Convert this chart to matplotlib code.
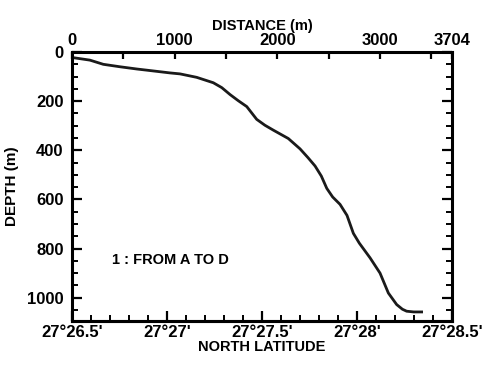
import matplotlib.pyplot as plt
from matplotlib.ticker import MultipleLocator, FixedLocator

plt.rcParams['font.family'] = ['Liberation Sans', 'DejaVu Sans']
plt.rcParams['font.weight'] = 'bold'

# depth profile, distance (m) vs depth (m)
distance = [0, 13, 175, 305, 468, 630, 793, 955, 1053, 1215, 1377, 1460, 1540,
            1620, 1703, 1800, 1880, 1962, 2108, 2222, 2300, 2369, 2430, 2483,
            2540, 2612, 2680, 2742, 2800, 2905, 3002, 3083, 3164, 3220, 3261,
            3330, 3407]
depth = [20, 23, 33, 50, 60, 69, 77, 85, 89, 103, 125, 145, 173,
         198, 222, 274, 298, 318, 352, 394, 430, 464, 505, 555,
         590, 620, 665, 738, 778, 838, 900, 981, 1028, 1047, 1055,
         1058, 1058]

dist_ticks = [0, 1000, 2000, 3000, 3704]
lat_ticks = [26.5, 27.0, 27.5, 28.0, 28.5]
lat_labels = ["27°26.5'", "27°27'", "27°27.5'", "27°28'", "27°28.5'"]
depth_ticks = [0, 200, 400, 600, 800, 1000]

fig = plt.figure(figsize=(4.93, 3.69), dpi=100)
ax = fig.add_axes([0.146, 0.130, 0.771, 0.729])

ax.plot(distance, depth, color='#1a1a1a', lw=2.0)

ax.set_xlim(0, 3704)
ax.set_ylim(1095, 0)

# top axis: distance
ax.xaxis.set_ticks_position('top')
ax.xaxis.set_label_position('top')
ax.set_xticks(dist_ticks)
ax.xaxis.set_minor_locator(FixedLocator([500, 1500, 2500, 3500]))
ax.set_xlabel('DISTANCE (m)', fontsize=10.5, fontweight='bold', labelpad=2)
ax.tick_params(axis='x', which='both', direction='in', length=5, width=1.6,
               labelsize=12, pad=3)

# y axis: depth
ax.set_yticks(depth_ticks)
ax.yaxis.set_minor_locator(MultipleLocator(50))
ax.tick_params(axis='y', which='major', direction='in', length=7.5, width=1.6,
               labelsize=12, pad=6, right=True)
ax.tick_params(axis='y', which='minor', direction='in', length=4, width=1.4,
               right=True)
ax.set_ylabel('DEPTH (m)', fontsize=11, fontweight='bold', labelpad=6)

# bottom axis: latitude in minutes
def d2lat(d):
    return 26.5 + d / 1852.0


def lat2d(m):
    return (m - 26.5) * 1852.0


sec = ax.secondary_xaxis('bottom', functions=(d2lat, lat2d))
sec.set_xticks(lat_ticks)
sec.set_xticklabels(lat_labels)
sec.xaxis.set_minor_locator(MultipleLocator(0.1))
sec.tick_params(axis='x', which='major', direction='in', length=7.5, width=1.6,
                labelsize=12, pad=3)
sec.tick_params(axis='x', which='minor', direction='in', length=4, width=1.4)
sec.set_xlabel('NORTH LATITUDE', fontsize=10.5, fontweight='bold', labelpad=0)
sec.spines['bottom'].set_linewidth(2.2)

for s in ax.spines.values():
    s.set_linewidth(2.2)

ax.text(0.105, 0.226, '1 : FROM A TO D', transform=ax.transAxes,
        fontsize=10.5, fontweight='bold', va='center', ha='left')

fig.savefig('out.png', dpi=100)
